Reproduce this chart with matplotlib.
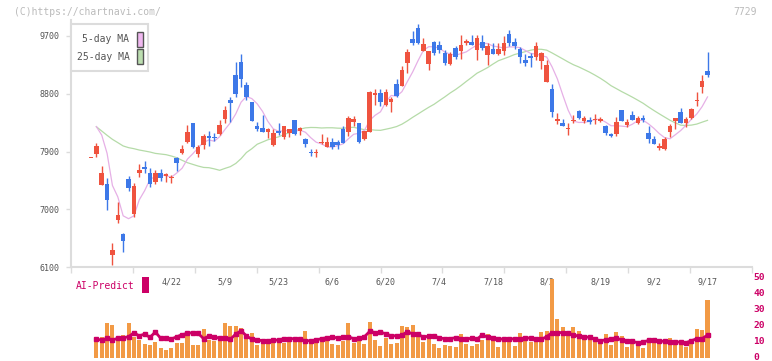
import numpy as np
import matplotlib
matplotlib.use("Agg")
import matplotlib.pyplot as plt
from matplotlib.patches import Rectangle
from matplotlib.transforms import blended_transform_factory

# ── Data ─────────────────────────────────────────────────────────────────────

opens = [7800, 7864, 7386, 7397, 6291, 6836, 6618, 7474, 6930, 7573,
         7666, 7562, 7433, 7562, 7526, 7485, 7806, 7884, 8050, 8341,
         7863, 8003, 8144, 8123, 8175, 8413, 8704, 9093, 9295, 8937,
         8673, 8299, 8268, 8211, 8003, 8227, 8123, 8185, 8393, 8227,
         8097, 7900, 7874, 8030, 7978, 8050, 8050, 8247, 8211, 8362,
         8351, 8097, 8211, 8782, 8818, 8626, 8678, 8953, 8927, 9285,
         9653, 9824, 9472, 9264, 9601, 9560, 9441, 9264, 9508, 9472,
         9596, 9607, 9482, 9607, 9409, 9498, 9425, 9472, 9731, 9607,
         9503, 9326, 9389, 9378, 9316, 8989, 8870, 8382, 8341, 8247,
         8382, 8532, 8372, 8398, 8393, 8372, 8299, 8175, 8175, 8548,
         8315, 8470, 8351, 8424, 8185, 8097, 7957, 7947, 8211, 8382,
         8517, 8351, 8418, 8693, 8911, 9155]
highs = [7800, 8040, 7677, 7490, 6483, 7116, 6639, 7521, 7407, 7703,
         7749, 7645, 7609, 7625, 7573, 7542, 7822, 8003, 8315, 8351,
         8003, 8175, 8227, 8185, 8393, 8616, 8745, 9295, 9420, 8979,
         8673, 8362, 8465, 8263, 8247, 8341, 8299, 8258, 8393, 8278,
         8107, 7936, 7936, 8175, 8133, 8118, 8081, 8299, 8455, 8455,
         8351, 8221, 8839, 8870, 8870, 8875, 8756, 9026, 9233, 9492,
         9783, 9887, 9664, 9461, 9617, 9617, 9482, 9451, 9544, 9715,
         9648, 9721, 9721, 9721, 9586, 9586, 9586, 9700, 9800, 9669,
         9534, 9420, 9430, 9606, 9451, 9326, 8953, 8496, 8403, 8341,
         8470, 8548, 8455, 8434, 8481, 8434, 8315, 8195, 8434, 8548,
         8403, 8537, 8455, 8465, 8299, 8138, 8029, 8123, 8330, 8418,
         8579, 8444, 8574, 8834, 9093, 9451]
lows = [7800, 7822, 7386, 6992, 6136, 6795, 6343, 7293, 6878, 7511,
        7573, 7345, 7397, 7448, 7433, 7417, 7604, 7863, 8040, 7952,
        7822, 7936, 7988, 8071, 8159, 8351, 8367, 8756, 8901, 8704,
        8382, 8227, 8206, 8118, 7988, 8159, 8102, 8133, 8159, 8159,
        7978, 7832, 7822, 8019, 7978, 7947, 7947, 8030, 8144, 8299,
        8030, 8081, 8211, 8631, 8616, 8611, 8522, 8756, 8927, 9129,
        9560, 9575, 9472, 9171, 9409, 9441, 9249, 9254, 9337, 9337,
        9555, 9555, 9326, 9482, 9254, 9425, 9409, 9409, 9544, 9492,
        9275, 9233, 9223, 9326, 9192, 8989, 8434, 8325, 8299, 8154,
        8351, 8403, 8351, 8330, 8330, 8362, 8159, 8123, 8144, 8382,
        8278, 8393, 8330, 8367, 8029, 8014, 7926, 7926, 8133, 8252,
        8341, 8289, 8403, 8610, 8818, 9067]
closes = [7800, 7988, 7562, 7148, 6369, 6914, 6514, 7339, 7365, 7614,
          7625, 7397, 7562, 7495, 7552, 7511, 7718, 7936, 8206, 7967,
          7978, 8144, 8113, 8113, 8315, 8548, 8662, 8797, 9031, 8756,
          8382, 8258, 8206, 8247, 8185, 8185, 8299, 8247, 8175, 8268,
          8019, 7874, 7900, 8040, 8050, 7978, 7998, 8040, 8429, 8408,
          8055, 8221, 8828, 8818, 8678, 8828, 8720, 8771, 9171, 9451,
          9586, 9596, 9575, 9461, 9441, 9482, 9285, 9420, 9378, 9560,
          9622, 9565, 9669, 9513, 9544, 9425, 9498, 9586, 9596, 9544,
          9368, 9285, 9352, 9544, 9430, 9254, 8522, 8408, 8299, 8253,
          8392, 8418, 8424, 8362, 8413, 8403, 8195, 8144, 8361, 8382,
          8361, 8393, 8418, 8387, 8102, 8014, 7988, 8097, 8299, 8418,
          8341, 8408, 8558, 8704, 8994, 9093]
# closes before the first visible candle, only needed for the moving averages
pre_closes = [9240, 8820, 7940, 8190, 7810, 7990, 7770, 8140, 8000, 7800,
              8090, 7750, 7800, 8040, 8370, 8960, 9130, 8620, 8630, 8670,
              8220, 8570, 8870]

# volume / AI-Predict start at the second candle
volume = [13.1, 13.1, 21.9, 20.2, 11.7, 14.2, 21.9, 13.1, 11.1, 8.6,
          7.9, 10.0, 6.1, 4.8, 6.1, 9.4, 9.4, 14.8, 7.9, 7.9,
          17.9, 11.1, 10.4, 11.1, 21.9, 19.8, 19.8, 18.6, 12.7, 15.7,
          7.9, 9.4, 11.1, 11.1, 11.1, 9.4, 10.4, 10.4, 10.4, 16.9,
          9.4, 9.4, 10.0, 10.4, 8.6, 7.9, 10.4, 21.9, 9.4, 10.4,
          8.6, 22.3, 11.1, 7.3, 12.5, 8.6, 9.4, 19.8, 19.2, 20.4,
          13.6, 10.0, 14.8, 8.6, 6.1, 7.9, 7.3, 6.5, 14.8, 8.6,
          7.3, 8.6, 11.1, 14.8, 11.5, 6.5, 12.1, 11.9, 7.3, 15.7,
          11.5, 10.0, 10.0, 16.3, 16.7, 49.2, 24.2, 19.2, 16.7, 19.2,
          16.7, 12.1, 11.1, 10.0, 10.0, 14.8, 7.9, 16.3, 13.6, 6.5,
          8.6, 8.6, 6.1, 12.1, 11.1, 10.7, 9.4, 12.1, 9.4, 9.4,
          6.5, 8.6, 17.7, 17.3, 36.1]
ai_predict = [11.5, 11.1, 12.1, 11.1, 12.1, 12.5, 13.1, 15.6, 13.6, 14.8,
              12.7, 16.1, 12.1, 12.1, 11.7, 13.1, 14.4, 15.2, 15.7, 15.2,
              11.9, 13.6, 13.1, 12.1, 12.1, 11.5, 14.8, 16.9, 13.6, 11.5,
              11.1, 10.6, 10.6, 10.8, 11.1, 11.9, 11.9, 11.9, 11.5, 10.6,
              10.6, 11.1, 11.9, 12.5, 12.7, 12.5, 12.7, 13.1, 11.9, 12.1,
              13.1, 16.5, 15.7, 15.9, 15.0, 13.6, 13.8, 14.0, 16.3, 14.8,
              14.8, 12.7, 13.6, 13.6, 12.3, 11.9, 11.9, 12.5, 11.9, 11.5,
              12.3, 11.5, 14.4, 12.7, 12.3, 11.9, 11.5, 11.9, 11.7, 11.9,
              12.3, 12.3, 11.9, 11.5, 13.1, 15.7, 15.7, 15.7, 15.2, 14.2,
              13.4, 13.1, 12.7, 11.5, 10.6, 11.1, 11.9, 12.3, 11.1, 10.6,
              10.2, 9.4, 9.8, 10.8, 11.1, 10.4, 10.2, 9.8, 9.8, 9.8,
              9.4, 10.6, 11.9, 11.9, 14.2]

date_labels = ["4/22", "5/9", "5/23", "6/6", "6/20", "7/4", "7/18",
               "8/2", "8/19", "9/2", "9/17"]
label_pos = [15, 25, 35, 45, 55, 65, 75, 85, 95, 105, 115]
price_ticks = [6100, 7000, 7900, 8800, 9700]
vol_ticks = [0, 10, 20, 30, 40, 50]

# ── Styling ──────────────────────────────────────────────────────────────────

W, H = 772, 361
UP, DOWN = "#ef533f", "#3d78e8"
GRID = "#dcdcdc"
TXT = "#555555"
MAGENTA = "#cc0066"
MONO = "DejaVu Sans Mono"


def fx(px):
    return px / W


def fy(py):
    return 1 - py / H


fig = plt.figure(figsize=(W / 100, H / 100), dpi=100)

# ── Price axes ───────────────────────────────────────────────────────────────
ax = fig.add_axes([fx(71), fy(267.3), fx(752) - fx(71), fy(20) - fy(267.3)])
ax.set_xlim(-3.73, 123.3)
ax.set_ylim(6100, 9949)

idx = np.arange(len(closes))
o = np.array(opens, float)
c = np.array(closes, float)
colors = [UP if cc >= oo else DOWN for oo, cc in zip(o, c)]
body_lo = np.minimum(o, c)
body_h = np.maximum(np.abs(c - o), 14)

ext = np.array(pre_closes + closes, float)
ma5 = np.convolve(ext, np.ones(5) / 5, mode="valid")[-len(closes):]
ma25 = np.convolve(ext, np.ones(25) / 25, mode="valid")
ma25 = np.concatenate([[np.nan], ma25])

ax.plot(idx[1:], ma25[1:], color="#b5dba8", lw=0.9, zorder=1)
ax.plot(idx[1:], ma5[1:], color="#e6b0e6", lw=0.9, zorder=1)
ax.vlines(idx, lows, highs, colors=colors, lw=1.0, zorder=2)
ax.bar(idx, body_h, bottom=body_lo, width=0.85, color=colors, lw=0, zorder=3)

for side in ("top", "right"):
    ax.spines[side].set_visible(False)
for side in ("left", "bottom"):
    ax.spines[side].set_color(GRID)
    ax.spines[side].set_linewidth(1.5)

ax.set_yticks(price_ticks)
ax.set_yticklabels([str(v) for v in price_ticks], family=MONO)
ax.tick_params(axis="y", direction="out", length=3.6, width=1, color=GRID,
               labelsize=6, labelcolor=TXT, pad=4.5)
ax.set_xticks(np.linspace(-3.73, 123.3, 12))
ax.set_xticklabels([])
ax.tick_params(axis="x", direction="out", length=4.5, width=1, color=GRID)

trans = blended_transform_factory(ax.transData, ax.transAxes)
for pos, lab in zip(label_pos, date_labels):
    ax.text(pos, -0.0607, lab, transform=trans, ha="center", va="center",
            fontsize=6, color=TXT, family=MONO)

# ── Volume / AI-Predict axes ────────────────────────────────────────────────
vax = fig.add_axes([fx(71), fy(357.7), fx(752) - fx(71), fy(277.7) - fy(357.7)])
vax.patch.set_alpha(0)
vax.set_xlim(-3.73, 123.3)
vax.set_ylim(0, 50)
vidx = idx[1:]
vax.bar(vidx, volume, width=0.75, color="#f29a45", lw=0, zorder=2)
vax.plot(vidx, ai_predict, color=MAGENTA, lw=2, marker="s", ms=2.2, zorder=3)
for s in vax.spines.values():
    s.set_visible(False)
vax.set_xticks([])
vax.set_yticks([])
# right-hand scale labels drawn as plain text so the bottom "0" stays inside
vtrans = blended_transform_factory(fig.transFigure, vax.transData)
for v in vol_ticks:
    vax.text(fx(753), v, str(v), transform=vtrans, ha="left", va="center",
             fontsize=6.8, fontweight="bold", color=MAGENTA, family=MONO,
             clip_on=False)

# ── Legend, header, AI-Predict tag ───────────────────────────────────────────
fig.patches.append(Rectangle((fx(70.7), fy(71)), fx(148.3) - fx(70.7), fy(24) - fy(71),
                             transform=fig.transFigure, facecolor="white",
                             edgecolor=GRID, lw=1.5, zorder=5))
for yc, lab, col in [(39.5, "5-day MA", "#f0b8f0"), (56.5, "25-day MA", "#bcdeb0")]:
    fig.text(fx(129.5), fy(yc), lab, ha="right", va="center", fontsize=7,
             color=TXT, family=MONO, zorder=6)
    fig.patches.append(Rectangle((fx(136.7), fy(yc + 7.5)), fx(6), 15 / H,
                                 transform=fig.transFigure, facecolor=col,
                                 edgecolor=TXT, lw=1, zorder=6))

fig.text(fx(14), fy(12), "(C)https://chartnavi.com/", ha="left", va="center",
         fontsize=7, color="#bbbbbb", family=MONO)
fig.text(fx(757), fy(12), "7729", ha="right", va="center",
         fontsize=7, color="#bbbbbb", family=MONO)
fig.text(fx(76), fy(286), "AI-Predict", ha="left", va="center",
         fontsize=7, color=MAGENTA, family=MONO)
fig.patches.append(Rectangle((fx(142), fy(293)), fx(7), 16 / H,
                             transform=fig.transFigure, facecolor=MAGENTA,
                             lw=0, zorder=5))

fig.savefig("out.png", dpi=100, facecolor="white")
